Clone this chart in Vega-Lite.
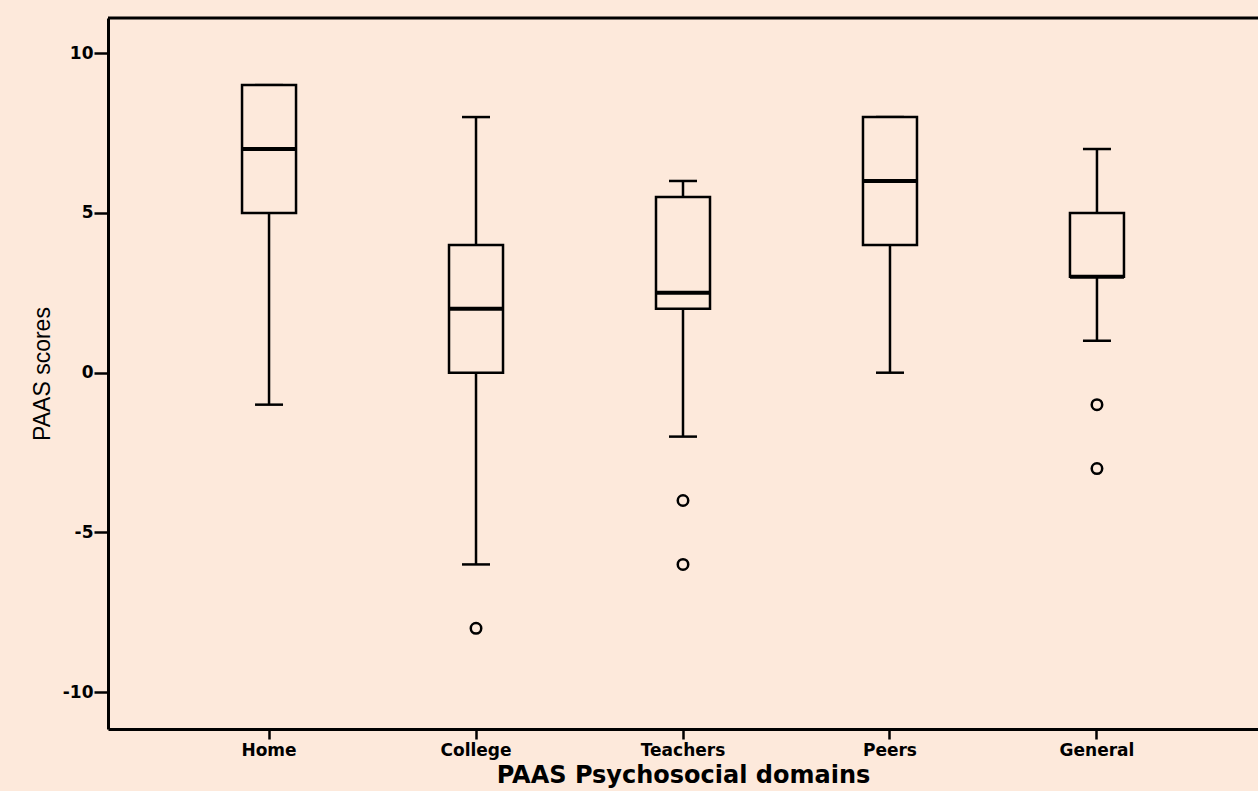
{
  "$schema": "https://vega.github.io/schema/vega-lite/v6.json",
  "width": 1150,
  "height": 711,
  "autosize": "none",
  "padding": {"left": 108, "top": 18, "right": 0, "bottom": 62},
  "background": "#FDE9DB",
  "config": {
    "view": {"stroke": null},
    "axis": {"grid": false, "domainColor": "black", "tickColor": "black", "labelColor": "black", "titleColor": "black"}
  },
  "datasets": {
    "boxes": [
      {"domain": "Home", "low": -1, "q1": 5, "median": 7, "q3": 9, "high": 9},
      {"domain": "College", "low": -6, "q1": 0, "median": 2, "q3": 4, "high": 8},
      {"domain": "Teachers", "low": -2, "q1": 2, "median": 2.5, "q3": 5.5, "high": 6},
      {"domain": "Peers", "low": 0, "q1": 4, "median": 6, "q3": 8, "high": 8},
      {"domain": "General", "low": 1, "q1": 3, "median": 3, "q3": 5, "high": 7}
    ],
    "outliers": [
      {"domain": "College", "value": -8},
      {"domain": "Teachers", "value": -4},
      {"domain": "Teachers", "value": -6},
      {"domain": "General", "value": -1},
      {"domain": "General", "value": -3}
    ]
  },
  "encoding": {
    "x": {
      "field": "domain", "type": "nominal",
      "scale": {"type": "band", "domain": ["Home", "College", "Teachers", "Peers", "General"], "paddingInner": 0, "paddingOuter": 0.278},
      "axis": {
        "title": "PAAS Psychosocial domains", "labelAngle": 0,
        "domainWidth": 3, "tickSize": 10, "tickWidth": 2.5,
        "labelFont": "DejaVu Sans", "labelFontWeight": "bold", "labelFontSize": 17, "labelPadding": 3,
        "titleFont": "DejaVu Sans", "titleFontWeight": "bold", "titleFontSize": 24, "titlePadding": 5
      }
    }
  },
  "layer": [
    {
      "data": {"name": "boxes"},
      "mark": {"type": "rule", "color": "black", "strokeWidth": 2.5, "opacity": 1},
      "encoding": {
        "y": {"field": "low", "type": "quantitative",
          "scale": {"domain": [-11.15, 11.1], "nice": false, "zero": false},
          "axis": {
            "title": "PAAS scores", "values": [-10, -5, 0, 5, 10],
            "labelExpr": "datum.value + ''",
            "domainWidth": 3, "tickSize": 14, "tickWidth": 2.5,
            "labelFont": "DejaVu Sans", "labelFontWeight": "bold", "labelFontSize": 17, "labelPadding": 1,
            "titleFont": "Liberation Sans", "titleFontWeight": "normal", "titleFontSize": 23, "titlePadding": 8
          }},
        "y2": {"field": "q1"}
      }
    },
    {
      "data": {"name": "boxes"},
      "mark": {"type": "rule", "color": "black", "strokeWidth": 2.5, "opacity": 1},
      "encoding": {
        "y": {"field": "q3", "type": "quantitative"},
        "y2": {"field": "high"}
      }
    },
    {
      "data": {"name": "boxes"},
      "mark": {"type": "tick", "color": "black", "size": 28, "thickness": 2.5, "opacity": 1},
      "encoding": {"y": {"field": "low", "type": "quantitative"}}
    },
    {
      "data": {"name": "boxes"},
      "mark": {"type": "tick", "color": "black", "size": 28, "thickness": 2.5, "opacity": 1},
      "encoding": {"y": {"field": "high", "type": "quantitative"}}
    },
    {
      "data": {"name": "boxes"},
      "mark": {"type": "bar", "size": 54, "fill": "#FDE9DB", "stroke": "black", "strokeWidth": 2.5, "opacity": 1},
      "encoding": {
        "y": {"field": "q1", "type": "quantitative"},
        "y2": {"field": "q3"}
      }
    },
    {
      "data": {"name": "boxes"},
      "mark": {"type": "tick", "color": "black", "size": 54, "thickness": 4, "opacity": 1},
      "encoding": {"y": {"field": "median", "type": "quantitative"}}
    },
    {
      "data": {"name": "outliers"},
      "mark": {"type": "point", "shape": "circle", "filled": false, "color": "black", "size": 110, "strokeWidth": 2.5, "opacity": 1},
      "encoding": {"y": {"field": "value", "type": "quantitative"}}
    },
    {
      "data": {"values": [{}]},
      "mark": {"type": "rule", "color": "black", "strokeWidth": 3},
      "encoding": {"y": {"datum": 11.1, "type": "quantitative"}, "x": null}
    }
  ]
}
